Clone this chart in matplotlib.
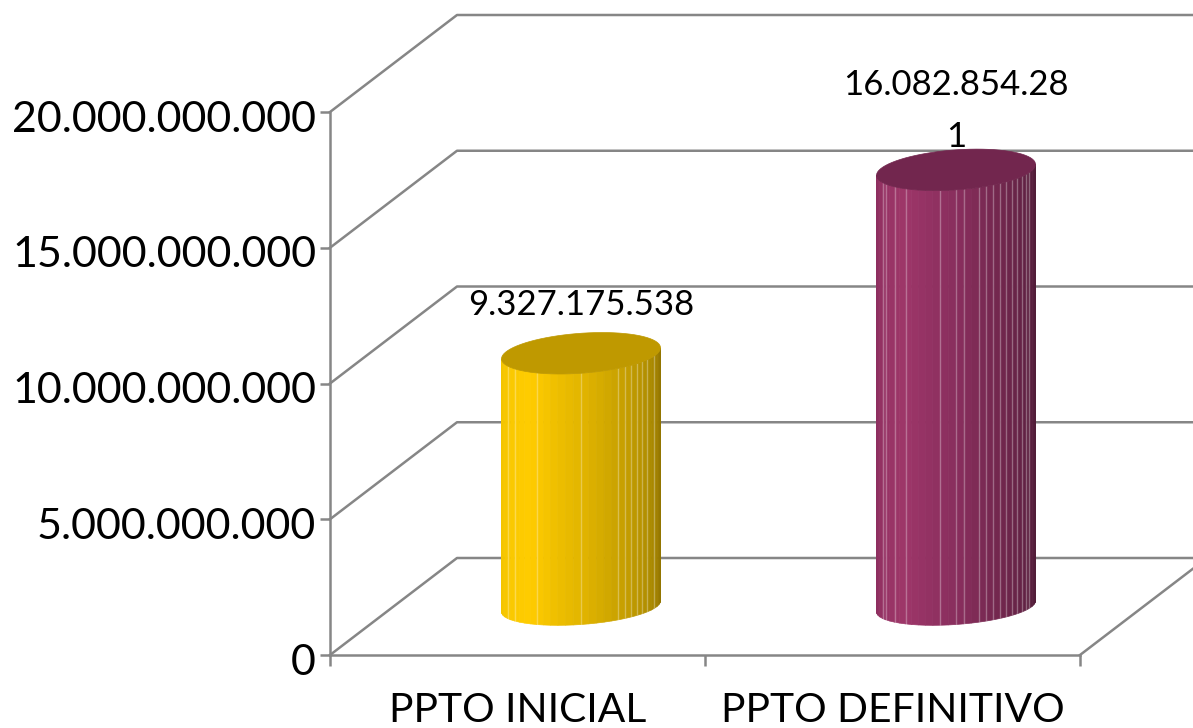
#!/usr/bin/env python
# Presupuesto inicial vs definitivo, cilindros estilo Excel 3D
import numpy as np
import matplotlib
matplotlib.use('Agg')
import matplotlib.pyplot as plt
from matplotlib.transforms import ScaledTranslation

# datos
categorias = ['PPTO INICIAL', 'PPTO DEFINITIVO']
valores = [9327175538, 16082854281]
etiquetas = ['9.327.175.538', '16.082.854.28\n1']
ticks_y = [0, 5000000000, 10000000000, 15000000000, 20000000000]
ticks_y_txt = ['0', '5.000.000.000', '10.000.000.000', '15.000.000.000', '20.000.000.000']

# colores de las facetas, de izquierda a derecha
stops = [0, 0.28, 0.5, 0.65, 0.85, 1]
colores = [
    ['#F2C400', '#FFCC00', '#E2B500', '#CBA300', '#AB8900', '#8F7300'],
    ['#8C2D5E', '#9E3669', '#892E5D', '#762850', '#5F2142', '#4F1D37'],
]
tapas = ['#BF9900', '#72264E']
lineas = [
    [4, 6, 10, 16, 21, 22, 23, 24, 25, 26, 28],
    [4, 5, 7, 9, 14, 16, 17, 19, 20, 21, 22, 23, 24, 25, 26, 27, 28],
]
offset_txt = [48, 59]

W, H = 1193, 728
plt.rcParams['font.family'] = ['Lato', 'DejaVu Sans']
fig = plt.figure(figsize=(W / 100, H / 100), dpi=100)
ax = fig.add_axes([330 / W, (H - 655) / H, 750 / W, 543 / H])
ax.set_xlim(0, 2)
ax.set_ylim(0, 20000000000)

# px -> datos
px_x = 2 / 750
px_y = 20000000000 / 543
dx = 127 * px_x
dy = 97 * px_y
gris = '#868686'
grosor = 1.8


def rgb(c):
    return np.array(matplotlib.colors.to_rgb(c))


# pared del fondo y piso
for v in ticks_y:
    ax.plot([0, dx, 2 + dx], [v, v + dy, v + dy], color=gris, lw=grosor, clip_on=False, zorder=1)
ax.plot([2, 2 + dx], [0, dy], color=gris, lw=grosor, clip_on=False, zorder=1)

# cilindros
a = 79.5 * px_x
b = 20 * px_y
b_base = 18 * px_y
s = 5.5 * px_y
n = 32
t = np.linspace(0, np.pi, n + 1)
for i, val in enumerate(valores):
    cx = i + 0.5 + dx / 2
    base = dy / 2
    xs = cx - a * np.cos(t)
    y_top = base + val - s * np.cos(t) - b * np.sin(t)
    y_bot = base - s * np.cos(t) - b_base * np.sin(t)
    cols = np.array([rgb(c) for c in colores[i]])
    for k in range(n):
        f = (k + 0.5) / n
        c = [np.interp(f, stops, cols[:, j]) for j in range(3)]
        ax.fill([xs[k], xs[k + 1], xs[k + 1], xs[k]],
                [y_bot[k], y_bot[k + 1], y_top[k + 1], y_top[k]],
                facecolor=c, edgecolor=c, lw=0.5, clip_on=False, zorder=3)
    # lineas claras entre facetas
    for k in lineas[i]:
        ax.plot([xs[k], xs[k]], [y_bot[k], y_top[k]], color='white', alpha=0.3, lw=1,
                clip_on=False, zorder=4)
    # tapa
    tt = np.linspace(0, 2 * np.pi, 80)
    ax.fill(cx - a * np.cos(tt), base + val - s * np.cos(tt) - b * np.sin(tt),
            facecolor=tapas[i], edgecolor=tapas[i], lw=0.5, clip_on=False, zorder=5)
    ax.annotate(etiquetas[i], (cx, base + val), xytext=(0, offset_txt[i] * 0.72),
                textcoords='offset points', ha='center', va='center', fontsize=25,
                linespacing=1.75, color='black', zorder=6)

# ejes
for lado in ['top', 'right']:
    ax.spines[lado].set_visible(False)
for lado in ['left', 'bottom']:
    ax.spines[lado].set_color(gris)
    ax.spines[lado].set_linewidth(grosor)
ax.set_yticks(ticks_y)
ax.set_yticklabels(ticks_y_txt, fontsize=31)
ax.tick_params(axis='y', length=7, width=grosor, color=gris, pad=3)
baja = ScaledTranslation(0, -3 / 72, fig.dpi_scale_trans)
for lab in ax.get_yticklabels():
    lab.set_transform(lab.get_transform() + baja)
ax.set_xticks([0, 1, 2])
ax.set_xticklabels(['', '', ''])
ax.tick_params(axis='x', which='major', length=8, width=grosor, color=gris)
ax.set_xticks([0.5, 1.5], minor=True)
ax.set_xticklabels(categorias, minor=True, fontsize=29.3)
ax.tick_params(axis='x', which='minor', length=0, pad=27)

fig.savefig('out.png', dpi=100)
